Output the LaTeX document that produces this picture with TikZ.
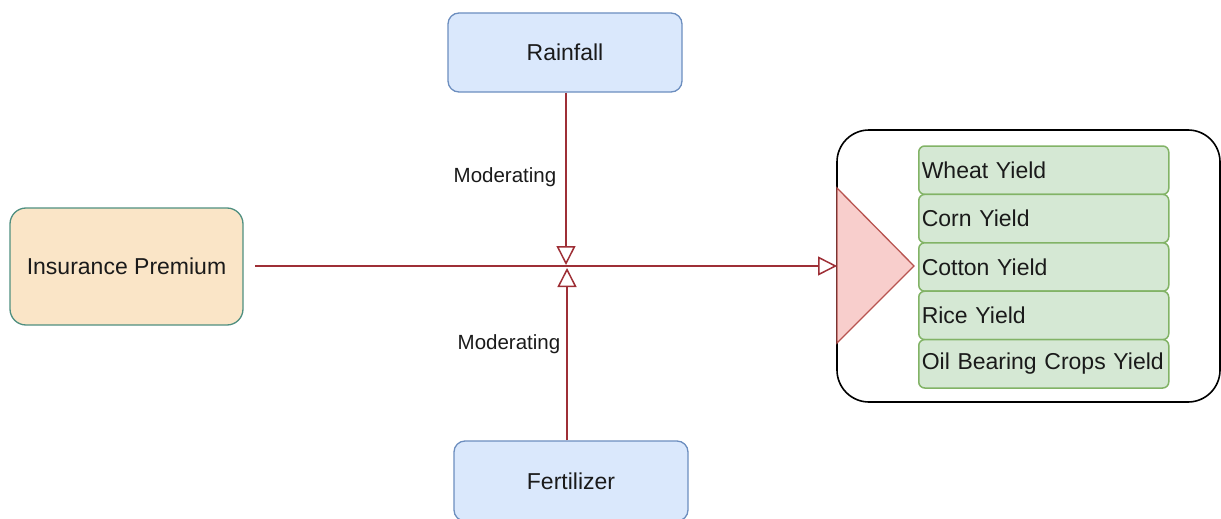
\documentclass[tikz,border=0pt]{standalone}
\usepackage{fontspec}
\setmainfont{Liberation Sans}
\usetikzlibrary{arrows.meta}
\definecolor{bluefill}{HTML}{DAE8FC}
\definecolor{bluedraw}{HTML}{6C8EBF}
\definecolor{orangefill}{HTML}{FAE5C7}
\definecolor{tealdraw}{HTML}{4F8F80}
\definecolor{greenfill}{HTML}{D5E8D4}
\definecolor{greendraw}{HTML}{82B366}
\definecolor{pinkfill}{HTML}{F8CECC}
\definecolor{pinkdraw}{HTML}{B85450}
\definecolor{linered}{HTML}{9E2F36}
\definecolor{txt}{HTML}{1A1A1A}
\tikzset{
  bluebox/.style={draw=bluedraw, fill=bluefill, line width=1.3pt, rounded corners=11pt,
    minimum width=234pt, minimum height=79pt, inner sep=0pt, font=\fontsize{23}{27}\selectfont, text=txt},
  orangebox/.style={draw=tealdraw, fill=orangefill, line width=1.3pt, rounded corners=16pt,
    minimum width=233pt, minimum height=117pt, inner sep=0pt, font=\fontsize{23}{27}\selectfont, text=txt},
  greenbox/.style={draw=greendraw, fill=greenfill, line width=1.5pt, rounded corners=6pt,
    minimum width=250pt, minimum height=48.4pt, inner xsep=3pt, inner ysep=2pt, anchor=west, text width=244pt,
    align=left, font=\fontsize{23}{27}\selectfont, text=txt},
  conn/.style={draw=linered, line width=1.5pt},
  opentip/.style={-{Triangle[open, length=19pt, width=19pt, fill=white]}},
  modlabel/.style={font=\fontsize{20.5}{24}\selectfont, text=txt, inner sep=0pt}
}
\begin{document}
\begin{tikzpicture}[x=1pt, y=-1pt]
\useasboundingbox (0,0) rectangle (1221,519);
% container
\draw[line width=1.6pt, rounded corners=32pt, fill=white] (837,130) rectangle (1220,402);
% triangle
\draw[draw=pinkdraw, fill=pinkfill, line width=1.3pt] (837,188) -- (914,266) -- (837,343) -- cycle;
% green boxes
\node[greenbox] (wheat)  at (918,170.2) {Wheat Yield};
\node[greenbox] (corn)   at (918,218.6) {Corn Yield};
\node[greenbox] (cotton) at (918,267.0) {Cotton Yield};
\node[greenbox] (rice)   at (918,315.4) {Rice Yield};
\node[greenbox] (oil)    at (918,363.8) {Oil Bearing Crops Yield};
% main nodes
\node[bluebox] (rain) at (565,52.5) {Rainfall};
\node[bluebox, minimum height=80pt] (fert) at (571,481) {Fertilizer};
\node[orangebox] (ins) at (126.5,266.5) {Insurance Premium};
% coordinates
\coordinate (hstart) at (255,266);
\coordinate (trileft) at (837,266);
\coordinate (toptip) at (566,265);
\coordinate (bottip) at (567,268);
% connectors
\draw[conn, opentip] (hstart) -- (trileft);
\draw[conn, opentip] (rain.south -| toptip) -- (toptip);
\draw[conn, opentip] (fert.north -| bottip) -- (bottip);
% labels
\node[modlabel] (mod1) at (505,177) {Moderating};
\node[modlabel] (mod2) at (509,344) {Moderating};
\end{tikzpicture}
\end{document}
